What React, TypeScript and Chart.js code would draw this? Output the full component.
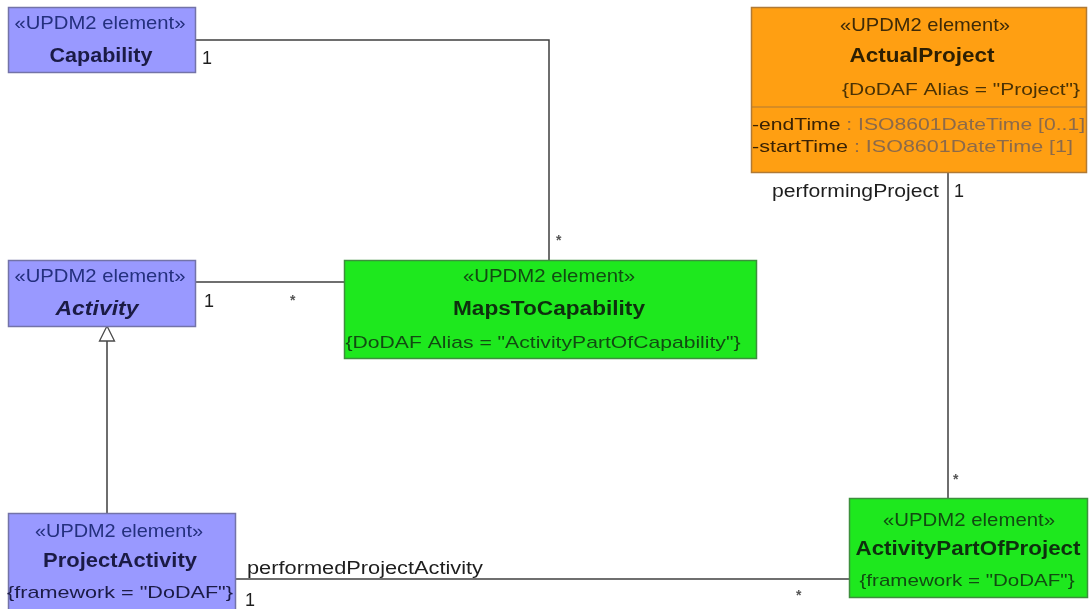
import React, { useEffect, useRef } from "react";
import { Chart, registerables } from "chart.js";

Chart.register(...registerables);

// ---------- content (texts of the diagram) ----------
const STEREOTYPE = "«UPDM2 element»";
const ELEMENT_NAMES = ["Capability", "Activity", "MapsToCapability", "ProjectActivity", "ActualProject", "ActivityPartOfProject"];
const ELEMENT_TAGS = ["", "", '{DoDAF Alias = "ActivityPartOfCapability"}', '{framework = "DoDAF"}', '{DoDAF Alias = "Project"}', '{framework = "DoDAF"}'];
const ELEMENT_KIND = ["blue", "blue", "green", "blue", "orange", "green"];
const NAME_ITALIC = [false, true, false, false, false, false];
const ATTR_NAMES = ["-endTime", "-startTime"];
const ATTR_TYPES = [" : ISO8601DateTime [0..1]", " : ISO8601DateTime [1]"];
const ROLE_LABELS = ["1", "*", "1", "*", "performingProject", "1", "*", "performedProjectActivity", "1", "*"];

// ---------- layout (diagram coordinates, y grows downward) ----------
const BOX_LEFT = [8, 8, 344, 8, 751, 849];
const BOX_RIGHT = [196, 196, 757, 236, 1087, 1088];
const BOX_TOP = [7, 260, 260, 513, 7, 498];
const BOX_BOTTOM = [73, 327, 359, 615, 173, 598];

const STEREO_X = [100, 100, 549, 119, 925, 969];
const STEREO_Y = [29, 282, 282, 537, 31, 526];
const STEREO_W = [171, 171, 172, 168, 170, 172];

const NAME_X = [101, 97, 549, 120, 922, 968];
const NAME_Y = [62, 315, 315, 567, 62, 555];
const NAME_W = [103, 83, 192, 154, 145, 225];

const TAG_X = [0, 0, 543, 120, 961, 967];
const TAG_Y = [0, 0, 348, 598, 95, 586];
const TAG_W = [0, 0, 395, 226, 238, 215];

const DIVIDER_Y = 107; // ActualProject compartment line
const ATTR_X = 752;
const ATTR_Y = [130, 152];
const ATTR_W = [333, 321];

const ROLE_X = [202, 556, 204, 290, 772, 954, 953, 247, 245, 796];
const ROLE_Y = [64, 245, 307, 305, 197, 197, 484, 574, 606, 600];
const ROLE_W = [0, 0, 0, 0, 167, 0, 0, 236, 0, 0];

// connectors
const CAP_LINK_X = [196, 549, 549];
const CAP_LINK_Y = [40, 40, 260];
const ACT_LINK_X = [196, 344];
const ACT_LINK_Y = [282, 282];
const GEN_LINK_X = [107, 107];
const GEN_LINK_Y = [340, 513];
const PROJ_LINK_X = [948, 948];
const PROJ_LINK_Y = [173, 498];
const PERF_LINK_X = [236, 849];
const PERF_LINK_Y = [579, 579];

const GEN_TIP_Y = 326;
const GEN_BASE_Y = 341;
const GEN_HALF = 7.5;

const PALETTE: Record<string, { fill: string; border: string; stereo: string; name: string; tag: string }> = {
  blue: { fill: "#9999ff", border: "#7373a8", stereo: "#24307e", name: "#1b1b45", tag: "#1b1b45" },
  green: { fill: "#1ee81e", border: "#3d8f3d", stereo: "#124a12", name: "#0e2f0e", tag: "#124a12" },
  orange: { fill: "#ff9f12", border: "#b07a35", stereo: "#3e2a08", name: "#2d1f02", tag: "#4a3205" },
};

const FONT = '"Liberation Sans", Arial, sans-serif';

function toPts(xs: number[], ys: number[]) {
  return xs.map((x, i) => ({ x, y: ys[i] }));
}

function drawFit(ctx: CanvasRenderingContext2D, str: string, x: number, y: number, font: string, color: string, align: CanvasTextAlign, width: number) {
  ctx.save();
  ctx.font = font;
  const m = ctx.measureText(str).width;
  const sx = width > 0 && m > 0 ? width / m : 1;
  ctx.translate(x, y);
  ctx.scale(sx, 1);
  ctx.textAlign = align;
  ctx.textBaseline = "alphabetic";
  ctx.fillStyle = color;
  ctx.fillText(str, 0, 0);
  ctx.restore();
}

const diagramPlugin = {
  id: "umlDiagram",
  beforeDraw(chart: any) {
    const ctx = chart.ctx;
    ctx.save();
    ctx.fillStyle = "#ffffff";
    ctx.fillRect(0, 0, chart.width, chart.height);
    ctx.restore();
  },
  afterDatasetsDraw(chart: any) {
    const ctx: CanvasRenderingContext2D = chart.ctx;
    const xs = chart.scales.x;
    const ys = chart.scales.y;
    const px = (v: number) => xs.getPixelForValue(v);
    const py = (v: number) => ys.getPixelForValue(v);

    // generalization arrow head
    ctx.save();
    ctx.beginPath();
    ctx.moveTo(px(GEN_LINK_X[0]), py(GEN_TIP_Y));
    ctx.lineTo(px(GEN_LINK_X[0] - GEN_HALF), py(GEN_BASE_Y));
    ctx.lineTo(px(GEN_LINK_X[0] + GEN_HALF), py(GEN_BASE_Y));
    ctx.closePath();
    ctx.fillStyle = "#ffffff";
    ctx.fill();
    ctx.strokeStyle = "#4a4a4a";
    ctx.lineWidth = 1.3;
    ctx.stroke();
    ctx.restore();

    // boxes
    ELEMENT_NAMES.forEach((name, i) => {
      const pal = PALETTE[ELEMENT_KIND[i]];
      const l = px(BOX_LEFT[i]);
      const r = px(BOX_RIGHT[i]);
      const t = py(BOX_TOP[i]);
      const b = py(BOX_BOTTOM[i]);
      ctx.save();
      ctx.fillStyle = pal.fill;
      ctx.fillRect(l, t, r - l, b - t);
      ctx.strokeStyle = pal.border;
      ctx.lineWidth = 1.5;
      ctx.strokeRect(l + 0.5, t + 0.5, r - l - 1, b - t - 1);
      ctx.restore();

      drawFit(ctx, STEREOTYPE, px(STEREO_X[i]), py(STEREO_Y[i]), `19px ${FONT}`, pal.stereo, "center", STEREO_W[i]);
      drawFit(ctx, name, px(NAME_X[i]), py(NAME_Y[i]), `${NAME_ITALIC[i] ? "italic " : ""}bold 20px ${FONT}`, pal.name, "center", NAME_W[i]);
      if (ELEMENT_TAGS[i]) {
        drawFit(ctx, ELEMENT_TAGS[i], px(TAG_X[i]), py(TAG_Y[i]), `17px ${FONT}`, pal.tag, "center", TAG_W[i]);
      }
      if (ELEMENT_KIND[i] === "orange") {
        ctx.save();
        ctx.strokeStyle = pal.border;
        ctx.lineWidth = 1.2;
        ctx.beginPath();
        ctx.moveTo(l, py(DIVIDER_Y));
        ctx.lineTo(r, py(DIVIDER_Y));
        ctx.stroke();
        ctx.restore();
        ATTR_NAMES.forEach((an, k) => {
          const full = an + ATTR_TYPES[k];
          ctx.save();
          ctx.font = `17px ${FONT}`;
          const mFull = ctx.measureText(full).width;
          const mName = ctx.measureText(an).width;
          const sx = ATTR_W[k] / mFull;
          ctx.translate(px(ATTR_X), py(ATTR_Y[k]));
          ctx.scale(sx, 1);
          ctx.textAlign = "left";
          ctx.textBaseline = "alphabetic";
          ctx.fillStyle = "#3a2204";
          ctx.fillText(an, 0, 0);
          ctx.fillStyle = "#8c6a4a";
          ctx.fillText(ATTR_TYPES[k], mName, 0);
          ctx.restore();
        });
      }
    });

    // role / multiplicity labels
    ROLE_LABELS.forEach((lab, i) => {
      if (lab === "*") {
        drawFit(ctx, lab, px(ROLE_X[i]), py(ROLE_Y[i]), `bold 14px ${FONT}`, "#555555", "left", 0);
      } else {
        drawFit(ctx, lab, px(ROLE_X[i]), py(ROLE_Y[i]), `18px ${FONT}`, "#1e1e1e", "left", ROLE_W[i]);
      }
    });
  },
};

export default function App() {
  const ref = useRef<HTMLCanvasElement | null>(null);

  useEffect(() => {
    document.body.style.margin = "0";
    const canvas = ref.current;
    if (!canvas) return;
    const lineStyle = { showLine: true, pointRadius: 0, borderColor: "#3f3f3f", borderWidth: 1.5, fill: false, tension: 0 };
    const chart = new Chart(canvas, {
      type: "scatter",
      data: {
        datasets: [
          { label: "Capability–MapsToCapability", data: toPts(CAP_LINK_X, CAP_LINK_Y), ...lineStyle },
          { label: "Activity–MapsToCapability", data: toPts(ACT_LINK_X, ACT_LINK_Y), ...lineStyle },
          { label: "Generalization", data: toPts(GEN_LINK_X, GEN_LINK_Y), ...lineStyle },
          { label: "performingProject", data: toPts(PROJ_LINK_X, PROJ_LINK_Y), ...lineStyle },
          { label: "performedProjectActivity", data: toPts(PERF_LINK_X, PERF_LINK_Y), ...lineStyle },
        ],
      },
      options: {
        animation: false,
        responsive: false,
        maintainAspectRatio: false,
        devicePixelRatio: 1,
        layout: { padding: 0 },
        plugins: { legend: { display: false }, tooltip: { enabled: false }, title: { display: false } },
        events: [],
        scales: {
          x: { type: "linear", min: 0, max: 1090, display: false },
          y: { type: "linear", min: 0, max: 609, reverse: true, display: false },
        },
      },
      plugins: [diagramPlugin],
    });
    return () => chart.destroy();
  }, []);

  return (
    <div style={{ position: "absolute", left: 0, top: 0, width: 1090, height: 609, background: "#fff" }}>
      <canvas ref={ref} width={1090} height={609} style={{ display: "block" }} />
    </div>
  );
}
